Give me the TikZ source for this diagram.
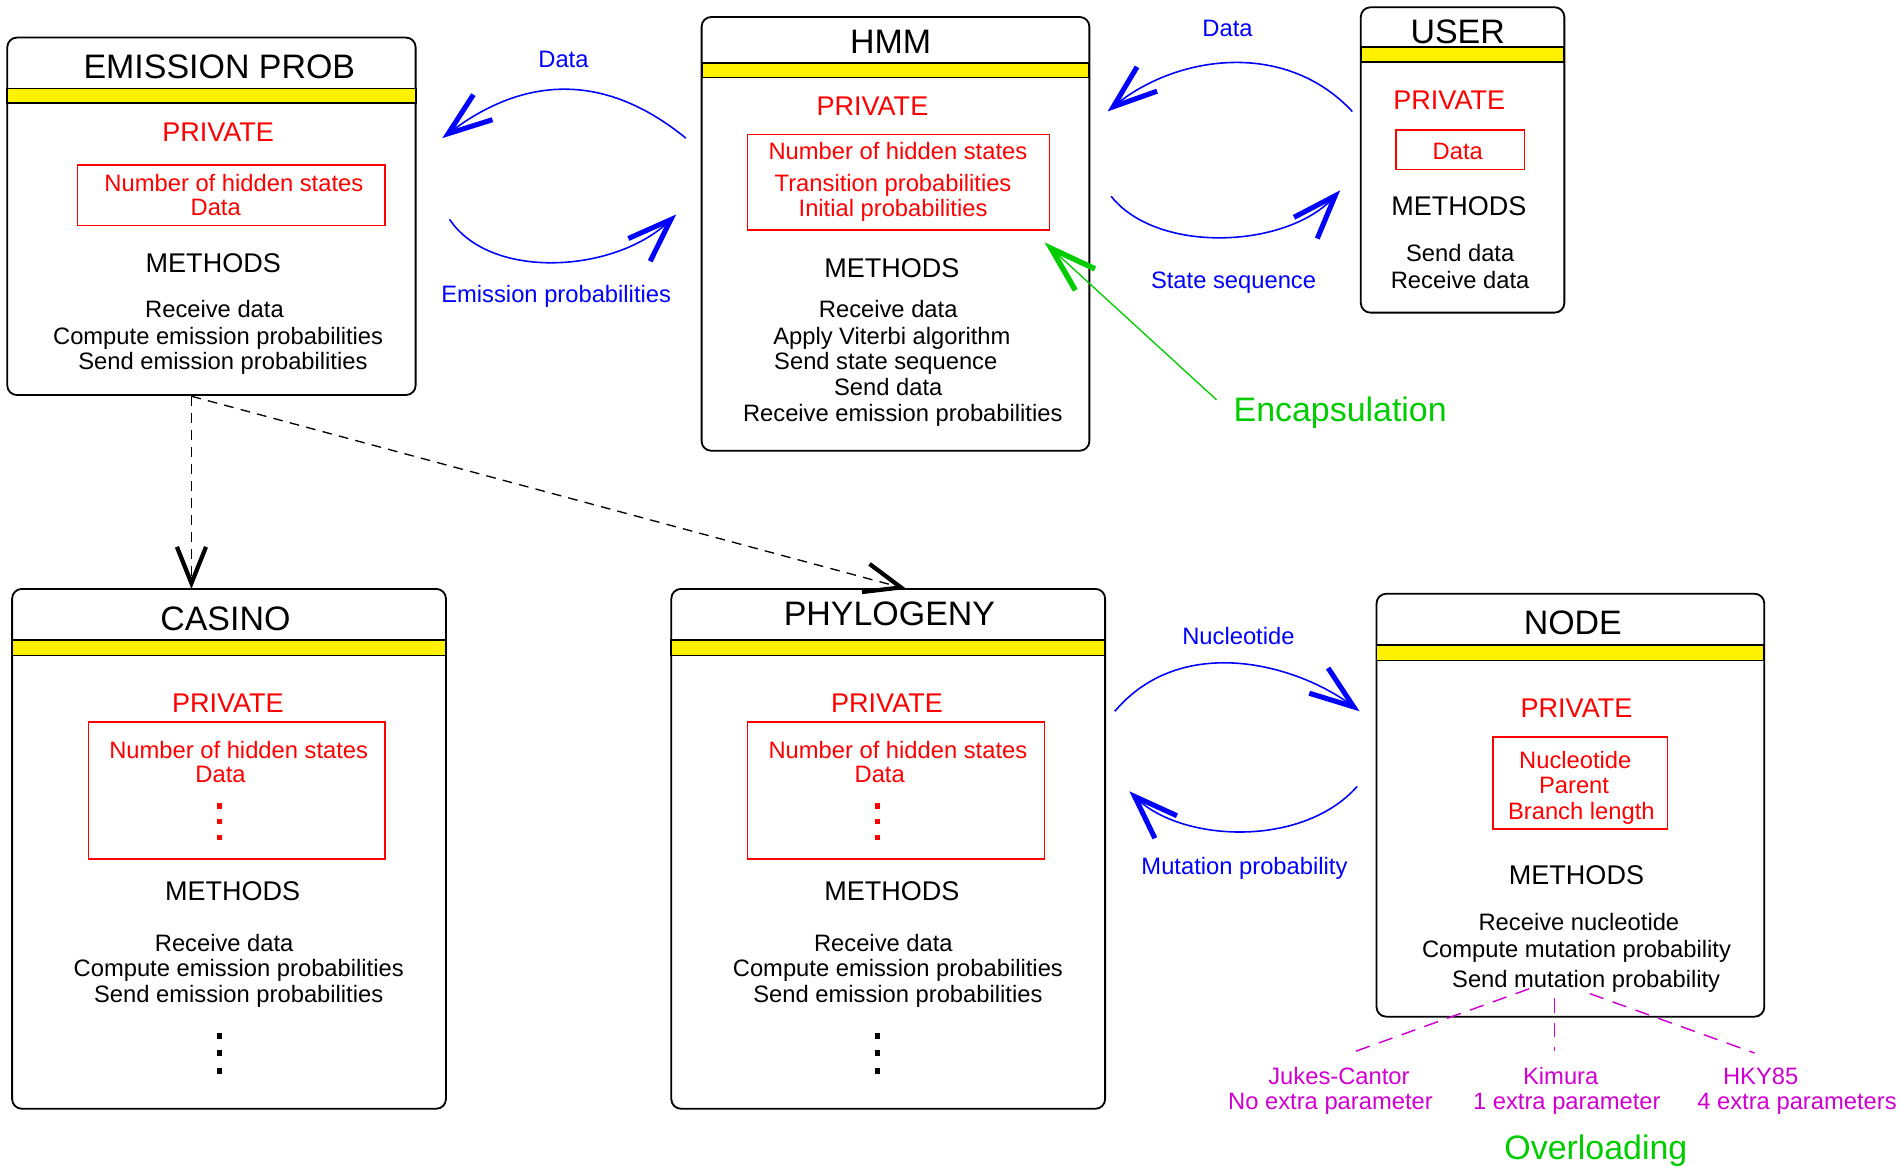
\documentclass[tikz,border=0pt]{standalone}
\usepackage{fontspec}
\setmainfont{Liberation Sans}
\usetikzlibrary{arrows.meta}
\definecolor{encgreen}{RGB}{0,204,0}
\definecolor{mag}{RGB}{208,0,208}
\newcommand\ftitle{\fontsize{28}{33}\selectfont}
\newcommand\fsec{\fontsize{22.3}{27}\selectfont}
\newcommand\fbody{\fontsize{19.6}{22}\selectfont}
\tikzset{
  classbox/.style={draw=black, line width=1.5pt, rounded corners=8pt, inner sep=0pt, outer sep=0pt},
  ybar/.style={draw=black, fill=yellow, line width=1.5pt, inner sep=0pt, outer sep=0pt, minimum height=12pt},
  redbox/.style={draw=red, line width=1.4pt, inner sep=0pt, outer sep=0pt},
  txt/.style={anchor=base, inner sep=0pt, outer sep=0pt},
  ttl/.style={txt, font=\ftitle},
  sec/.style={txt, font=\fsec},
  bod/.style={txt, font=\fbody},
  rdot/.style={fill=red, inner sep=0pt, minimum size=4.5pt},
  kdot/.style={fill=black, inner sep=0pt, minimum size=4.5pt},
  blueconn/.style={draw=blue, line width=1.3pt, -{Straight Barb[length=36pt,width=26pt,line width=4.2pt]}},
  greenconn/.style={draw=encgreen, line width=1.1pt, -{Straight Barb[length=38pt,width=24pt,line width=4.5pt]}},
  dashconn/.style={draw=black, line width=1.1pt, dash pattern=on 8pt off 6pt, -{Straight Barb[length=30pt,width=24pt,line width=3.5pt]}},
  magline/.style={draw=mag, line width=1.2pt, dash pattern=on 12pt off 8pt},
}
\begin{document}
\begin{tikzpicture}[x=1pt,y=-1pt]
\useasboundingbox (0,0) rectangle (1568,962);

% ---------- class boxes ----------
\node[classbox, minimum width=337pt, minimum height=295pt] (emis) at (174.5,178.5) {};
\node[ybar, minimum width=337pt] (emisbar) at (174.5,79) {};
\node[redbox, minimum width=254pt, minimum height=50pt] (emisred) at (191,161) {};

\node[classbox, minimum width=320pt, minimum height=358pt] (hmm) at (739,193) {};
\node[ybar, minimum width=320pt] (hmmbar) at (739,58) {};
\node[redbox, minimum width=249pt, minimum height=79pt] (hmmred) at (741.5,150.5) {};

\node[classbox, minimum width=168pt, minimum height=252pt] (user) at (1207,132) {};
\node[ybar, minimum width=168pt] (userbar) at (1207,45) {};
\node[redbox, minimum width=106pt, minimum height=33pt] (userred) at (1205,123.5) {};

\node[classbox, minimum width=358pt, minimum height=429pt] (casino) at (189,700.5) {};
\node[ybar, minimum width=358pt, minimum height=13pt] (casinobar) at (189,534.5) {};
\node[redbox, minimum width=245pt, minimum height=113pt] (casinored) at (195.5,652.5) {};

\node[classbox, minimum width=358pt, minimum height=429pt] (phylo) at (733,700.5) {};
\node[ybar, minimum width=358pt, minimum height=13pt] (phylobar) at (733,534.5) {};
\node[redbox, minimum width=245pt, minimum height=113pt] (phylored) at (739.5,652.5) {};

\node[classbox, minimum width=320pt, minimum height=349pt] (nodeb) at (1296,664.5) {};
\node[ybar, minimum width=320pt, minimum height=13pt] (nodebar) at (1296,538.5) {};
\node[redbox, minimum width=144pt, minimum height=76pt] (nodered) at (1304,646) {};

% ---------- EMISSION PROB ----------
\node[ttl] (emisT) at (181,65) {EMISSION PROB};
\node[sec,red] (emisP) at (180,117) {PRIVATE};
\node[bod,red] (emisP1) at (193,158) {Number of hidden states};
\node[bod,red] (emisP2) at (178,178) {Data};
\node[sec] (emisM) at (176,225) {METHODS};
\node[bod] (emisM1) at (177,262) {Receive data};
\node[bod] (emisM2) at (180,284) {Compute emission probabilities};
\node[bod] (emisM3) at (184,305) {Send emission probabilities};

% ---------- HMM ----------
\node[ttl] (hmmT) at (735,44) {HMM};
\node[sec,red] (hmmP) at (720,95) {PRIVATE};
\node[bod,red] (hmmP1) at (741,132) {Number of hidden states};
\node[bod,red] (hmmP2) at (737,158) {Transition probabilities};
\node[bod,red] (hmmP3) at (737,179) {Initial probabilities};
\node[sec] (hmmM) at (736,229) {METHODS};
\node[bod] (hmmM1) at (733,262) {Receive data};
\node[bod] (hmmM2) at (736,284) {Apply Viterbi algorithm};
\node[bod] (hmmM3) at (731,305) {Send state sequence};
\node[bod] (hmmM4) at (733,326) {Send data};
\node[bod] (hmmM5) at (745,348) {Receive emission probabilities};

% ---------- USER ----------
\node[ttl] (userT) at (1203,36) {USER};
\node[sec,red] (userP) at (1196,90) {PRIVATE};
\node[bod,red] (userP1) at (1203,132) {Data};
\node[sec] (userM) at (1204,178) {METHODS};
\node[bod] (userM1) at (1205,216) {Send data};
\node[bod] (userM2) at (1205,238) {Receive data};

% ---------- CASINO ----------
\node[ttl] (casT) at (186,520) {CASINO};
\node[sec,red] (casP) at (188,588) {PRIVATE};
\node[bod,red] (casP1) at (197,626) {Number of hidden states};
\node[bod,red] (casP2) at (182,646) {Data};
\node[rdot] (casr1) at (181,665) {};
\node[rdot] (casr2) at (181,678) {};
\node[rdot] (casr3) at (181,691) {};
\node[sec] (casM) at (192,743) {METHODS};
\node[bod] (casM1) at (185,785) {Receive data};
\node[bod] (casM2) at (197,806) {Compute emission probabilities};
\node[bod] (casM3) at (197,827) {Send emission probabilities};
\node[kdot] (cask1) at (181,855) {};
\node[kdot] (cask2) at (181,869) {};
\node[kdot] (cask3) at (181,884) {};

% ---------- PHYLOGENY ----------
\node[ttl] (phyT) at (734,516) {PHYLOGENY};
\node[sec,red] (phyP) at (732,588) {PRIVATE};
\node[bod,red] (phyP1) at (741,626) {Number of hidden states};
\node[bod,red] (phyP2) at (726,646) {Data};
\node[rdot] (phyr1) at (724,665) {};
\node[rdot] (phyr2) at (724,678) {};
\node[rdot] (phyr3) at (724,691) {};
\node[sec] (phyM) at (736,743) {METHODS};
\node[bod] (phyM1) at (729,785) {Receive data};
\node[bod] (phyM2) at (741,806) {Compute emission probabilities};
\node[bod] (phyM3) at (741,827) {Send emission probabilities};
\node[kdot] (phyk1) at (724,855) {};
\node[kdot] (phyk2) at (724,869) {};
\node[kdot] (phyk3) at (724,884) {};

% ---------- NODE ----------
\node[ttl] (nodT) at (1298,524) {NODE};
\node[sec,red] (nodP) at (1301,592) {PRIVATE};
\node[bod,red] (nodP1) at (1300,634) {Nucleotide};
\node[bod,red] (nodP2) at (1299,655) {Parent};
\node[bod,red] (nodP3) at (1305,676) {Branch length};
\node[sec] (nodM) at (1301,730) {METHODS};
\node[bod] (nodM1) at (1303,768) {Receive nucleotide};
\node[bod] (nodM2) at (1301,790) {Compute mutation probability};
\node[bod] (nodM3) at (1309,815) {Send mutation probability};

% ---------- overloading ----------
\node[bod,mag] (jc1) at (1105,895) {Jukes-Cantor};
\node[bod,mag] (jc2) at (1098,916) {No extra parameter};
\node[bod,mag] (ki1) at (1288,895) {Kimura};
\node[bod,mag] (ki2) at (1293,916) {1 extra parameter};
\node[bod,mag] (hk1) at (1453,895) {HKY85};
\node[bod,mag] (hk2) at (1483,916) {4 extra parameters};
\node[ttl,encgreen] (overl) at (1317,957) {Overloading};

\coordinate (ma0) at (1262,816);
\coordinate (ma1) at (1112,870);
\coordinate (mb0) at (1283,824);
\coordinate (mb1) at (1283,867);
\coordinate (mc0) at (1312,820);
\coordinate (mc1) at (1448,869);
\draw[magline] (ma0) -- (ma1);
\draw[magline] (mb0) -- (mb1);
\draw[magline] (mc0) -- (mc1);

% ---------- message labels ----------
\node[bod,blue] (lab1) at (465,56) {Data};
\node[bod,blue] (lab2) at (459,250) {Emission probabilities};
\node[bod,blue] (lab3) at (1013,30) {Data};
\node[bod,blue] (lab4) at (1018,238) {State sequence};
\node[bod,blue] (lab5) at (1022,532) {Nucleotide};
\node[bod,blue] (lab6) at (1027,722) {Mutation probability};

% ---------- message arrows ----------
\coordinate (a1s) at (566,114); \coordinate (a1e) at (365,114);
\coordinate (a2s) at (371,181); \coordinate (a2e) at (558,177);
\coordinate (a3s) at (1116,92); \coordinate (a3e) at (914,92);
\coordinate (a4s) at (917,162); \coordinate (a4e) at (1106,157);
\coordinate (a5s) at (920,587); \coordinate (a5e) at (1122,587);
\coordinate (a6s) at (1120,649); \coordinate (a6e) at (932,653);
\draw[blueconn] (a1s) .. controls (495,56) and (428,66) .. (a1e);
\draw[blueconn] (a2s) .. controls (405,232) and (508,225) .. (a2e);
\draw[blueconn] (a3s) .. controls (1060,32) and (970,46) .. (a3e);
\draw[blueconn] (a4s) .. controls (955,210) and (1062,205) .. (a4e);
\draw[blueconn] (a5s) .. controls (975,522) and (1070,548) .. (a5e);
\draw[blueconn] (a6s) .. controls (1075,700) and (975,695) .. (a6e);

% ---------- encapsulation ----------
\node[ttl,encgreen] (encap) at (1106,348) {Encapsulation};
\coordinate (g0) at (1004,330);
\coordinate (g1) at (862,200);
\draw[greenconn] (g0) -- (g1);

% ---------- inheritance ----------
\coordinate (d0) at (158,327);
\coordinate (d2) at (748,486);
\draw[dashconn] (d0) -- (d0 |- casino.north);
\draw[dashconn] (d0) -- (d2);
\end{tikzpicture}
\end{document}
